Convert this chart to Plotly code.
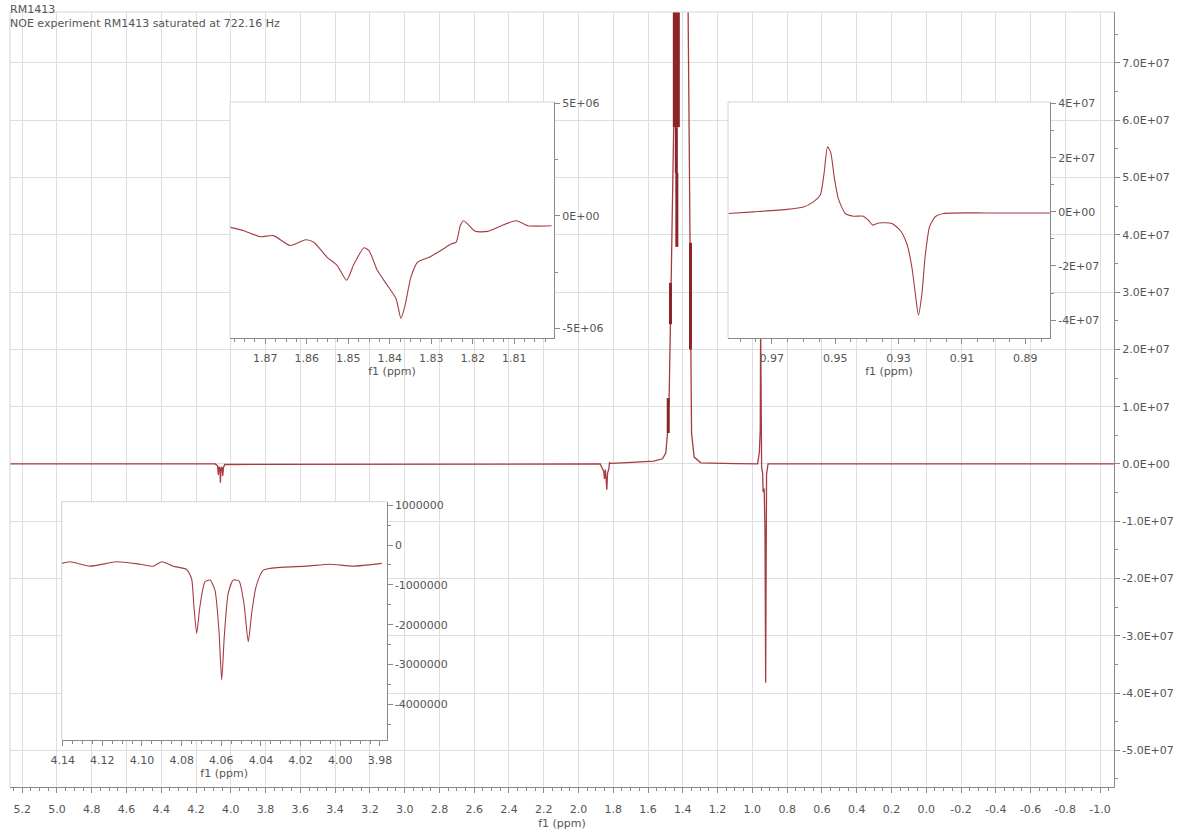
import plotly.graph_objects as go

# ---------------- data ----------------
# main 1H NOE difference spectrum (ppm, intensity)
main_ppm = [5.27, 4.09, 4.076, 4.072, 4.068, 4.063, 4.0598, 4.0565, 4.051, 4.0464, 4.042, 4.035,
            1.875, 1.855, 1.8504, 1.8462, 1.8406, 1.8373, 1.833, 1.825, 1.822, 1.815, 1.75, 1.65,
            1.567, 1.517, 1.498, 1.488, 1.479, 1.469, 1.459, 1.450, 1.446, 1.443, 1.376, 1.3695,
            1.3637, 1.358, 1.3539, 1.3499, 1.3349, 1.2964, 1.10, 0.97, 0.96, 0.9547, 0.9524, 0.9503,
            0.949, 0.9468, 0.9411, 0.9381, 0.9321, 0.9274, 0.9237, 0.9216, 0.9184, 0.91, -1.08]
main_int = [0, 0, -0.3e6, -1.9e6, -0.5e6, -0.7e6, -3.3e6, -0.8e6, -0.5e6, -2.1e6, -0.6e6, -0.1e6,
            0, -1.3e6, -2.6e6, -1.0e6, -2.8e6, -4.5e6, -1.6e6, -0.8e6, 0.2e6, 0.1e6, 0.2e6, 0.35e6,
            0.5e6, 0.9e6, 1.9e6, 5.4e6, 1.12e7, 2.86e7, 4.61e7, 6.35e7, 7.87e7, 2.5e8, 2.5e8, 7.87e7,
            5.78e7, 3.73e7, 1.99e7, 5.4e6, 1.2e6, 0.2e6, 0.05e6, 0, 0.2e7, 0.6e7, 2.45e7, 1.2e7,
            0.5e7, -0.06e7, -0.16e7, -0.49e7, -0.43e7, -1.17e7, -3.82e7, -1.66e7, -0.18e7, 0, 0]

# densely overlapping parts of the saturated peak (drawn heavier)
dense_wide_ppm = [1.4374, 1.4374]
dense_wide_int = [8.0e7, 5.88e7]
dense_ppm = [1.4374, 1.4374, None, 1.4345, 1.4345, None, 1.471, 1.471, None, 1.484, 1.484, None, 1.356, 1.356]
dense_int = [5.88e7, 5.08e7, None, 5.08e7, 3.79e7, None, 3.16e7, 2.44e7, None, 1.15e7, 0.54e7, None, 3.86e7, 2.0e7]

# inset 1: 1.80 - 1.88 ppm
ins1_ppm = [1.8785, 1.8752, 1.8712, 1.868, 1.864, 1.8603, 1.8583, 1.8551, 1.8527, 1.8504, 1.8486,
            1.8462, 1.845, 1.843, 1.8406, 1.8385, 1.8373, 1.8364, 1.8349, 1.8333, 1.8305, 1.8277,
            1.8252, 1.824, 1.823, 1.8222, 1.8212, 1.8194, 1.8164, 1.8131, 1.8095, 1.8067, 1.801]
ins1_int = [-0.515e6, -0.66e6, -0.925e6, -0.88e6, -1.32e6, -1.06e6, -1.17e6, -1.84e6, -2.2e6, -2.86e6,
            -2.13e6, -1.42e6, -1.54e6, -2.42e6, -3.08e6, -3.67e6, -4.55e6, -4.04e6, -2.72e6, -2.06e6,
            -1.84e6, -1.54e6, -1.25e6, -1.17e6, -0.44e6, -0.22e6, -0.37e6, -0.69e6, -0.69e6, -0.44e6,
            -0.22e6, -0.44e6, -0.44e6]

# inset 2: 0.88 - 0.98 ppm
ins2_ppm = [0.9837, 0.9758, 0.9653, 0.96, 0.9569, 0.9547, 0.9535, 0.9524, 0.9514, 0.9503, 0.949,
            0.9468, 0.9442, 0.9411, 0.9395, 0.9381, 0.9363, 0.9321, 0.9295, 0.9274, 0.9258, 0.9247,
            0.9237, 0.9226, 0.9216, 0.9202, 0.9184, 0.9158, 0.9021, 0.8821]
ins2_int = [-0.06e7, 0, 0.09e7, 0.18e7, 0.37e7, 0.62e7, 1.42e7, 2.4e7, 2.2e7, 1.29e7, 0.49e7,
            -0.06e7, -0.16e7, -0.16e7, -0.31e7, -0.49e7, -0.41e7, -0.43e7, -0.68e7, -1.17e7, -2.03e7,
            -3.01e7, -3.81e7, -3.01e7, -1.66e7, -0.55e7, -0.18e7, -0.06e7, -0.04e7, -0.04e7]

# inset 3: 3.98 - 4.14 ppm
ins3_ppm = [4.1405, 4.1363, 4.1262, 4.1128, 4.101, 4.0943, 4.09, 4.0842, 4.0775, 4.075, 4.0738, 4.0724,
            4.0708, 4.0682, 4.0657, 4.0632, 4.0612, 4.0598, 4.0585, 4.0565, 4.054, 4.0511, 4.0486,
            4.0464, 4.0447, 4.0425, 4.0388, 4.0304, 4.017, 4.0052, 3.9935, 3.9791]
ins3_int = [-0.46e6, -0.42e6, -0.53e6, -0.42e6, -0.48e6, -0.53e6, -0.42e6, -0.53e6, -0.61e6, -0.84e6,
            -1.55e6, -2.22e6, -1.55e6, -0.92e6, -0.88e6, -1.13e6, -2.14e6, -3.39e6, -2.3e6, -1.21e6,
            -0.88e6, -0.9e6, -1.46e6, -2.43e6, -1.72e6, -1.05e6, -0.63e6, -0.56e6, -0.53e6, -0.48e6,
            -0.53e6, -0.46e6]

# tick labels
main_xticks = [5.2, 5.0, 4.8, 4.6, 4.4, 4.2, 4.0, 3.8, 3.6, 3.4, 3.2, 3.0, 2.8, 2.6, 2.4, 2.2, 2.0,
               1.8, 1.6, 1.4, 1.2, 1.0, 0.8, 0.6, 0.4, 0.2, 0.0, -0.2, -0.4, -0.6, -0.8, -1.0]
main_xlabels = ["%.1f" % v for v in main_xticks]
main_yticks = [7e7, 6e7, 5e7, 4e7, 3e7, 2e7, 1e7, 0, -1e7, -2e7, -3e7, -4e7, -5e7]
main_ylabels = ["7.0E+07", "6.0E+07", "5.0E+07", "4.0E+07", "3.0E+07", "2.0E+07", "1.0E+07",
                "0.0E+00", "-1.0E+07", "-2.0E+07", "-3.0E+07", "-4.0E+07", "-5.0E+07"]
ins1_yticks = [5e6, 0, -5e6]
ins1_ylabels = ["5E+06", "0E+00", "-5E+06"]
ins2_yticks = [4e7, 2e7, 0, -2e7, -4e7]
ins2_ylabels = ["4E+07", "2E+07", "0E+00", "-2E+07", "-4E+07"]
ins3_yticks = [1e6, 0, -1e6, -2e6, -3e6, -4e6]
ins3_ylabels = ["1000000", "0", "-1000000", "-2000000", "-3000000", "-4000000"]

title_lines = ["RM1413", "NOE experiment RM1413 saturated at 722.16 Hz"]

# ---------------- style ----------------
LINE = "#a53c42"
DENSE = "#8c2428"
TXT = "#555555"
AX = "#8a8a8a"
GRID = "#dedede"
FONT = "DejaVu Sans"

fig = go.Figure()
fig.add_trace(go.Scatter(x=main_ppm, y=main_int, mode="lines", line=dict(color=LINE, width=1.3),
                         xaxis="x", yaxis="y", showlegend=False, hoverinfo="skip"))
fig.add_trace(go.Scatter(x=dense_wide_ppm, y=dense_wide_int, mode="lines", line=dict(color=DENSE, width=7),
                         xaxis="x", yaxis="y", showlegend=False, hoverinfo="skip"))
fig.add_trace(go.Scatter(x=dense_ppm, y=dense_int, mode="lines", line=dict(color=DENSE, width=3),
                         xaxis="x", yaxis="y", showlegend=False, hoverinfo="skip", connectgaps=False))
for xs, ys, xa, ya in [(ins1_ppm, ins1_int, "x2", "y2"), (ins2_ppm, ins2_int, "x3", "y3"),
                       (ins3_ppm, ins3_int, "x4", "y4")]:
    fig.add_trace(go.Scatter(x=xs, y=ys, mode="lines",
                             line=dict(color=LINE, width=1.1, shape="spline", smoothing=0.6),
                             xaxis=xa, yaxis=ya, showlegend=False))

tickfont = dict(family=FONT, size=11, color=TXT)


def inset_x(domain, rng, anchor, dtick, tick0):
    return dict(domain=domain, range=rng, anchor=anchor, showgrid=False, zeroline=False, automargin=False,
                showline=True, linecolor=AX, linewidth=1, ticks="outside", ticklen=5, tickcolor=AX,
                tickmode="linear", tick0=tick0, dtick=dtick, tickformat=".2f", tickfont=tickfont,
                ticklabelstandoff=5,
                minor=dict(ticks="outside", ticklen=3, tickcolor=AX, tickmode="linear", tick0=0,
                           dtick=0.005 if dtick > 0.015 else 0.0025, showgrid=False),
                title=dict(text="f1 (ppm)", font=tickfont, standoff=3))


def inset_y(domain, rng, anchor, vals, labels, minor_dtick):
    return dict(domain=domain, range=rng, anchor=anchor, side="right", showgrid=False, zeroline=False,
                automargin=False,
                showline=True, linecolor=AX, linewidth=1, ticks="outside", ticklen=5, tickcolor=AX,
                tickmode="array", tickvals=vals, ticktext=labels, tickfont=tickfont,
                minor=dict(ticks="outside", ticklen=3, tickcolor=AX, tickmode="linear", tick0=0,
                           dtick=minor_dtick, showgrid=False))


d1x, d2x, d3x = [0.1993, 0.4928], [0.6504, 0.9420], [0.0468, 0.3412]
dtop, dbot = [0.5794, 0.8839], [0.0606, 0.3681]

fig.update_layout(
    width=1187, height=832,
    margin=dict(l=10, r=73, t=12, b=45, autoexpand=False),
    paper_bgcolor="white", plot_bgcolor="white",
    font=dict(family=FONT, size=11, color=TXT),
    xaxis=dict(range=[5.27, -1.08], showgrid=True, gridcolor=GRID, gridwidth=1, zeroline=False,
               automargin=False,
               showline=True, linecolor=AX, linewidth=1, ticks="outside", ticklen=5, tickcolor=AX,
               tickmode="array", tickvals=main_xticks, ticktext=main_xlabels, tickfont=tickfont,
               ticklabelstandoff=7,
               minor=dict(ticks="outside", ticklen=3, tickcolor=AX, tickmode="linear", tick0=0,
                          dtick=0.05, showgrid=False),
               title=dict(text="f1 (ppm)", font=tickfont, standoff=4)),
    yaxis=dict(range=[-5.64e7, 7.89e7], side="right", showgrid=True, gridcolor=GRID, gridwidth=1,
               zeroline=False, automargin=False, showline=True, linecolor=AX, linewidth=1,
               ticks="outside", ticklen=5,
               tickcolor=AX, tickmode="array", tickvals=main_yticks, ticktext=main_ylabels,
               tickfont=tickfont,
               minor=dict(ticks="outside", ticklen=3, tickcolor=AX, tickmode="linear", tick0=0,
                          dtick=5e6, showgrid=False)),
    xaxis2=inset_x(d1x, [1.8785, 1.8004], "y2", 0.01, 0),
    yaxis2=inset_y(dtop, [-5.42e6, 5.05e6], "x2", ins1_yticks, ins1_ylabels, 2.5e6),
    xaxis3=inset_x(d2x, [0.9838, 0.8822], "y3", 0.02, 0.01),
    yaxis3=inset_y(dtop, [-4.66e7, 4.06e7], "x3", ins2_yticks, ins2_ylabels, 1e7),
    xaxis4=inset_x(d3x, [4.1405, 3.9766], "y4", 0.02, 0),
    yaxis4=inset_y(dbot, [-4.90e6, 1.09e6], "x4", ins3_yticks, ins3_ylabels, 5e5),
)

# light frame of plot area (top / left) and of the insets
frame = dict(color="#d4d4d4", width=1)
shapes = [dict(type="line", xref="paper", yref="paper", x0=0, x1=1, y0=1, y1=1, line=frame),
          dict(type="line", xref="paper", yref="paper", x0=0, x1=0, y0=0, y1=1, line=frame)]
for dx, dy in [(d1x, dtop), (d2x, dtop), (d3x, dbot)]:
    shapes.append(dict(type="line", xref="paper", yref="paper", x0=dx[0], x1=dx[1], y0=dy[1], y1=dy[1], line=frame))
    shapes.append(dict(type="line", xref="paper", yref="paper", x0=dx[0], x1=dx[0], y0=dy[0], y1=dy[1], line=frame))
fig.update_layout(shapes=shapes)

fig.add_annotation(text=title_lines[0], xref="paper", yref="paper", x=-0.0018, y=1.0028,
                   xanchor="left", yanchor="middle", showarrow=False,
                   font=dict(family=FONT, size=11, color=TXT))
fig.add_annotation(text=title_lines[1], xref="paper", yref="paper", x=-0.0018, y=0.9847,
                   xanchor="left", yanchor="middle", showarrow=False,
                   font=dict(family=FONT, size=11, color=TXT))

fig.write_html("out.html")
